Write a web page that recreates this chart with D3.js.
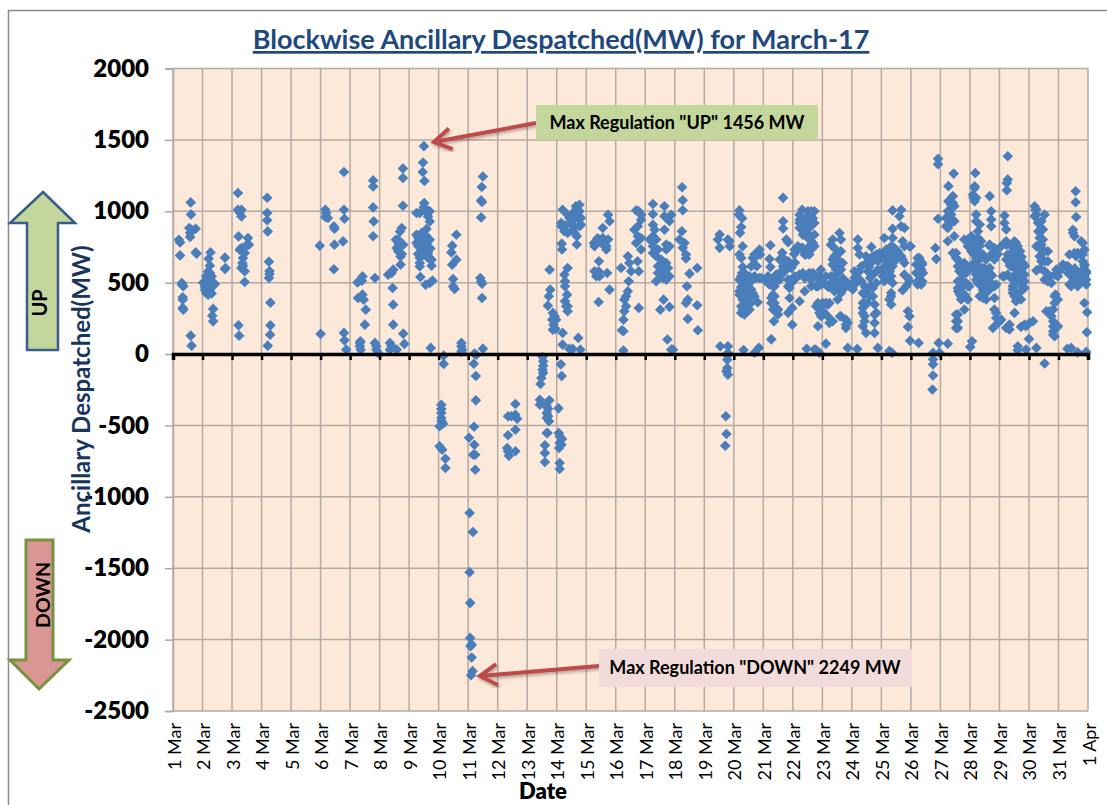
<!DOCTYPE html>
<html>
<head>
<meta charset="utf-8">
<script src="https://cdn.jsdelivr.net/npm/d3@7"></script>
<style>
  html, body { margin: 0; padding: 0; background: #fff; }
  text { font-family: Lato, "Open Sans", sans-serif; }
</style>
</head>
<body>
<svg id="chart" width="1107" height="805"></svg>
<script>
const yTicks = [2000, 1500, 1000, 500, 0, -500, -1000, -1500, -2000, -2500]
const dayLabels = ['1 Mar','2 Mar','3 Mar','4 Mar','5 Mar','6 Mar','7 Mar','8 Mar','9 Mar','10 Mar','11 Mar','12 Mar','13 Mar','14 Mar','15 Mar','16 Mar','17 Mar','18 Mar','19 Mar','20 Mar','21 Mar','22 Mar','23 Mar','24 Mar','25 Mar','26 Mar','27 Mar','28 Mar','29 Mar','30 Mar','31 Mar','1 Apr']

// each entry: [fraction of the day, MW]
const mar01 = [[.2,801],[.24,782],[.24,691],[.3,498],[.35,475],[.3,486],[.33,397],[.33,381],[.33,323],[.35,311],[.6,1062],[.61,978],[.55,883],[.63,871],[.58,848],[.58,820],[.77,878],[.77,712],[.8,703],[.6,129],[.63,59]]
const mar02 = [[.27,712],[.21,668],[.25,619],[.25,568],[.19,533],[.25,521],[.08,502],[.19,493],[.36,502],[.12,474],[.31,474],[.08,451],[.25,451],[.12,428],[.19,416],[.36,316],[.33,269],[.36,229],[.76,675],[.78,603],[.76,596],[.25,545],[.14,510],[.12,545],[.31,545],[.19,579],[.25,484],[.08,472],[.02,500],[.42,490],[.31,425]]
const mar03 = [[.2,1128],[.2,1011],[.32,1011],[.26,992],[.32,964],[.22,824],[.54,813],[.51,766],[.32,743],[.26,731],[.57,766],[.37,720],[.43,708],[.37,673],[.35,638],[.32,603],[.43,580],[.37,619],[.43,505],[.22,201],[.24,129],[.46,755]]
const mar04 = [[.19,1095],[.19,988],[.19,937],[.21,859],[.25,647],[.27,582],[.27,561],[.25,533],[.3,360],[.3,201],[.29,136],[.21,59]]
const mar05 = [[.97,759]]
const mar06 = [[0,141],[.16,1011],[.19,988],[.16,960],[.25,953],[.45,894],[.47,878],[.47,766],[.45,594],[.79,1275],[.79,1011],[.81,948],[.76,789],[.79,148],[.81,96],[.87,31]]
const mar07 = [[.25,502],[.42,544],[.4,514],[.27,393],[.42,416],[.46,381],[.53,311],[.5,206],[.33,78],[.33,54],[.36,31],[.35,89],[.78,1216],[.78,1174],[.78,1027],[.8,929],[.78,825],[.84,533],[.84,78],[.89,54],[.89,31],[.95,8]]
const mar08 = [[.29,556],[.41,568],[.46,591],[.44,463],[.46,346],[.46,206],[.35,78],[.41,54],[.35,31],[.58,31],[.8,143],[.84,71],[.79,1300],[.79,1233],[.79,1039],[.75,883],[.69,859],[.55,801],[.63,801],[.69,766],[.8,766],[.58,743],[.63,720],[.71,684],[.71,626],[.75,700],[.65,770]]
const mar09 = [[.5,1456],[.47,1342],[.46,1275],[.52,1212],[.51,1058],[.25,988],[.36,988],[.59,1011],[.7,1000],[.64,964],[.7,929],[.59,876],[.42,848],[.25,836],[.31,813],[.59,825],[.7,801],[.25,778],[.47,766],[.59,755],[.31,755],[.64,708],[.47,696],[.36,673],[.64,673],[.76,661],[.36,638],[.76,619],[.36,614],[.38,540],[.56,486],[.7,498],[.79,514],[.73,43],[.5,1030],[.55,1000],[.62,700],[.5,790],[.42,720],[.53,740],[.3,700],[.72,740]]
const mar10 = [[.17,-11],[.17,-69],[.46,759],[.6,836],[.43,712],[.6,661],[.46,626],[.49,526],[.49,474],[.54,456],[.77,78],[.77,54],[.8,31],[.77,15],[.09,-355],[.09,-385],[.09,-413],[.09,-448],[.1,-470],[.15,-488],[.03,-506],[.03,-646],[.12,-670],[.23,-733],[.23,-798]]
const mar11 = [[.21,3],[.28,-5],[.19,-68],[.26,-154],[.26,-324],[.2,-509],[.03,-586],[.21,-635],[.17,-705],[.24,-705],[.24,-810],[.05,-1113],[.16,-1246],[.05,-1528],[.07,-1743],[.07,-1988],[.12,-2035],[.08,-2046],[.12,-2125],[.15,-2221],[.1,-2249],[.5,38],[.5,1244],[.46,1170],[.44,1076],[.47,1065],[.44,957],[.41,533],[.44,510],[.47,493],[.47,393]]
const mar12 = [[.6,-350],[.35,-436],[.46,-436],[.6,-425],[.66,-453],[.6,-530],[.35,-569],[.32,-658],[.35,-681],[.38,-712],[.6,-681]]
const mar13 = [[.52,-21],[.54,-51],[.54,-82],[.52,-110],[.54,-133],[.48,-168],[.45,-210],[.43,-320],[.48,-343],[.43,-355],[.75,-324],[.66,-366],[.71,-385],[.66,-413],[.71,-436],[.66,-448],[.74,-471],[.66,-553],[.6,-639],[.6,-693],[.6,-756],[.69,-553],[.76,591],[.78,451],[.73,405],[.7,339],[.87,288],[.93,265],[.85,241],[.98,241],[.89,206],[.96,176],[.87,170]]
const mar14 = [[.14,-72],[.17,-154],[.06,-380],[.07,-553],[.1,-576],[.18,-595],[.1,-623],[.16,-635],[.08,-658],[.1,-763],[.1,-805],[.37,603],[.26,556],[.28,510],[.28,475],[.35,416],[.28,370],[.37,335],[.32,335],[.37,300],[.2,148],[.2,66],[.43,36],[.54,36],[.73,113],[.8,31],[.15,918],[.16,895],[.26,860],[.37,848],[.2,1011],[.37,976],[.54,976],[.43,953],[.65,1035],[.77,1046],[.6,1000],[.77,1000],[.71,953],[.82,953],[.77,895],[.6,895],[.6,848],[.68,825],[.68,767],[.17,773],[.18,732],[.54,871],[.82,905],[.68,1010],[.5,930],[.3,900]]
const mar15 = [[.26,778],[.28,755],[.43,650],[.42,580],[.28,580],[.34,545],[.45,545],[.71,568],[.79,451],[.42,365],[.56,883],[.56,813],[.45,802],[.62,790],[.74,802],[.68,755],[.74,976],[.79,930],[.68,732],[.34,790],[.5,780],[.62,760],[.38,810]]
const mar16 = [[.18,603],[.41,685],[.46,638],[.52,580],[.74,650],[.78,580],[.44,510],[.41,440],[.35,405],[.29,381],[.35,335],[.29,300],[.26,241],[.21,167],[.26,160],[.26,25],[.78,323],[.69,1006],[.86,976],[.86,941],[.75,895],[.63,871],[.75,825],[.86,813],[.69,778],[.86,732],[.78,1000]]
const mar17 = [[.26,1051],[.26,980],[.26,906],[.32,871],[.26,825],[.15,802],[.37,802],[.26,755],[.43,732],[.26,708],[.37,685],[.54,661],[.71,638],[.43,615],[.77,603],[.6,591],[.43,568],[.82,545],[.6,533],[.37,510],[.71,521],[.62,381],[.51,311],[.82,330],[.65,1035],[.88,976],[.65,965],[.82,930],[.65,871],[.75,102],[.88,31],[.94,31],[.71,767],[.82,755],[.71,732],[.55,620],[.65,560]]
const mar18 = [[.25,1168],[.27,1077],[.27,1007],[.24,860],[.16,802],[.33,778],[.27,744],[.38,697],[.38,670],[.5,563],[.41,475],[.44,381],[.38,358],[.76,603],[.76,342],[.44,246],[.78,167]]
const mar19 = [[.52,837],[.46,802],[.52,744],[.8,802],[.86,755],[.54,55],[.8,55],[.8,8],[.78,-40],[.75,-120],[.8,-145],[.78,-98],[.73,-436],[.75,-560],[.71,-642],[.85,790],[.78,-10]]
const mar20 = [[.19,1006],[.17,976],[.28,952],[.25,890],[.21,849],[.3,755],[.19,697],[.25,673],[.28,568],[.25,545],[.53,545],[.7,545],[.93,533],[.42,521],[.3,498],[.59,510],[.19,440],[.42,428],[.64,428],[.3,381],[.47,393],[.7,405],[.36,347],[.58,358],[.25,288],[.36,277],[.53,312],[.81,363],[.64,673],[.7,627],[.87,731],[.33,28],[.7,9],[.85,44],[.3,610],[.36,455],[.47,475],[.25,470],[.53,440],[.36,510],[.19,521],[.36,545],[.47,475],[.3,440],[.59,452],[.42,358],[.3,312],[.47,300],[.25,335],[.76,533],[.87,533],[.36,568],[.19,416],[.76,685],[.59,615],[.7,697],[.78,615],[.89,697]]
const mar21 = [[.24,762],[.21,666],[.24,610],[.21,533],[.44,557],[.16,498],[.38,475],[.55,521],[.33,416],[.27,358],[.38,358],[.38,323],[.5,277],[.36,230],[.27,103],[.67,1094],[.67,930],[.67,879],[.78,802],[.84,783],[.64,709],[.72,662],[.89,639],[.67,615],[.84,604],[.95,604],[.84,522],[.89,463],[.89,393],[.84,288],[.98,323],[.98,206],[.05,520],[.3,520],[.2,510],[.95,620],[.78,610],[.16,545],[.27,521],[.38,533],[.5,545],[.21,487],[.33,475],[.44,510],[.61,580],[.73,615],[.84,650],[.55,662],[.38,405],[.27,393],[.5,312],[.67,568],[.84,475],[.95,498],[.33,312],[.44,300]]
const mar22 = [[.32,1011],[.23,976],[.62,1000],[.73,1000],[.45,952],[.68,952],[.23,883],[.4,895],[.56,883],[.73,836],[.34,836],[.51,813],[.68,778],[.34,743],[.17,732],[.56,697],[.4,697],[.34,568],[.56,568],[.68,568],[.4,533],[.17,545],[.62,521],[.4,440],[.23,370],[.47,37],[.73,32],[.9,9],[.85,475],[.79,475],[.9,545],[.96,487],[.85,358],[.96,335],[.9,288],[.96,265],[.85,195],[.3,930],[.45,870],[.62,930],[.5,960],[.4,850],[.28,880],[.56,830],[.05,700],[.07,640],[.05,520],[.95,590],[.78,30],[.06,545],[.06,732],[.17,755],[.28,743],[.56,755],[.73,755],[.45,697],[.62,732],[.4,872],[.23,918],[.34,918],[.56,918],[.73,918],[.51,1000],[.23,941],[.06,533],[.23,556],[.51,556],[.79,545],[.62,475],[.9,498],[.79,335]]
const mar23 = [[.35,802],[.58,848],[.63,802],[.29,766],[.46,731],[.63,720],[.41,685],[.52,662],[.35,627],[.69,638],[.46,592],[.12,545],[.29,545],[.63,592],[.41,545],[.01,498],[.29,498],[.52,498],[.86,498],[.75,463],[.41,440],[.63,428],[.52,382],[.12,358],[.24,358],[.07,288],[.35,230],[.24,218],[.6,265],[.8,241],[.86,218],[.8,183],[.12,73],[.86,43],[.2,470],[.35,470],[.55,460],[.7,530],[.46,610],[.01,358],[.12,487],[.24,475],[.41,475],[.52,463],[.63,475],[.75,498],[.35,533],[.52,568],[.41,615],[.58,638],[.35,662],[.46,685],[.8,498],[.92,475],[.01,346],[.18,346],[.01,277],[.18,265],[.63,265],[.8,206]]
const mar24 = [[.2,802],[.2,743],[.26,697],[.2,568],[.09,580],[.32,615],[.48,685],[.66,750],[.71,650],[.54,580],[.15,498],[.32,510],[.62,533],[.03,452],[.43,417],[.77,568],[.37,358],[.54,358],[.71,405],[.37,288],[.43,230],[.48,148],[.77,277],[.77,218],[.77,148],[.88,43],[.18,36],[.6,660],[.5,640],[.58,610],[.45,470],[.65,480],[.88,590],[.03,498],[.15,568],[.26,580],[.09,533],[.26,521],[.6,662],[.83,697],[.94,708],[.71,685],[.88,650],[.99,592],[.83,580],[.66,556],[.37,428],[.54,452],[.71,463],[.83,498],[.6,405],[.43,358],[.77,347],[.37,323],[.43,265],[.37,195],[.83,288]]
const mar25 = [[.1,813],[.38,813],[.27,731],[.44,697],[.1,685],[.33,673],[.67,685],[.72,790],[.99,755],[.72,662],[.05,592],[.16,580],[.38,615],[.78,556],[.95,510],[.27,521],[.1,510],[.33,405],[.72,447],[.33,347],[.38,1006],[.67,1011],[.61,965],[.38,877],[.67,895],[.78,883],[.27,21],[.36,9],[.9,300],[.95,265],[.9,190],[.97,93],[.2,720],[.25,650],[.38,690],[.15,620],[.5,660],[.55,720],[.08,540],[.28,580],[.16,731],[.33,755],[.44,743],[.27,697],[.05,673],[.21,638],[.38,662],[.5,685],[.1,603],[.27,580],[.16,533],[.05,545],[.33,545],[.38,498],[.95,755],[.78,755],[.61,697],[.78,638],[.9,533],[.33,428],[.27,382],[.84,475]]
const mar26 = [[.23,673],[.29,627],[.35,592],[.23,568],[.41,568],[.23,510],[.35,487],[.26,78],[.83,743],[.86,666],[.75,9],[.75,-37],[.75,-72],[.75,-150],[.73,-248],[.97,9],[.94,78],[.92,1368],[.92,1330],[.92,948],[.3,550],[.38,640],[.18,627],[.29,673],[.18,568],[.29,521],[.38,510],[.23,487],[.38,627]]
const mar27 = [[.25,73],[.45,1264],[.27,1176],[.42,1106],[.27,1071],[.36,1047],[.47,1035],[.25,1000],[.19,953],[.36,977],[.47,930],[.36,919],[.25,883],[.47,825],[.25,790],[.42,708],[.53,673],[.7,627],[.81,638],[.64,580],[.87,568],[.7,521],[.59,463],[.93,475],[.81,417],[.7,382],[.93,382],[.81,312],[.59,277],[.53,230],[.59,183],[.75,560],[.6,440],[.65,420],[.8,500],[.9,600],[.3,960],[.53,708],[.64,650],[.75,627],[.59,615],[.7,580],[.93,603],[.81,580],[.59,510],[.75,475],[.64,440],[.87,498],[.98,475],[.7,405],[.87,393],[.53,277],[.59,230],[.53,183],[.42,1058],[.3,1000],[.42,941],[.19,895],[.93,802],[.81,802],[.93,755]]
const mar28 = [[.18,1268],[.16,1163],[.1,1116],[.21,1094],[.16,1070],[.21,977],[.33,907],[.05,825],[.27,860],[.21,778],[.05,755],[.38,790],[.1,708],[.27,720],[.55,662],[.33,662],[.1,592],[.44,603],[.21,557],[.67,568],[.44,533],[.27,498],[.55,498],[.83,475],[.44,452],[.67,452],[.44,393],[.55,382],[.83,393],[.67,1106],[.72,1000],[.72,942],[.72,895],[.83,312],[.89,253],[.78,183],[.07,90],[.01,50],[.95,218],[.15,640],[.3,580],[.5,600],[.6,540],[.1,770],[.35,500],[.2,620],[.75,550],[.85,720],[.65,760],[.95,700],[.1,802],[.27,813],[.16,755],[.33,755],[.05,720],[.21,673],[.44,697],[.67,766],[.83,743],[.72,697],[.89,708],[.83,662],[.1,627],[.27,615],[.44,580],[.55,580],[.67,603],[.21,521],[.38,533],[.55,521],[.72,498],[.89,487],[.33,487],[.5,417],[.33,405],[.16,1175],[.12,1094],[.21,930],[.89,288]]
const mar29 = [[.28,1385],[.28,1222],[.25,1198],[.25,1147],[.17,970],[.17,918],[.23,872],[.23,790],[.51,790],[.56,778],[.28,697],[.68,685],[.45,662],[.62,627],[.79,638],[.23,662],[.45,615],[.73,603],[.17,545],[.62,568],[.85,556],[.51,487],[.79,498],[.45,452],[.73,440],[.56,370],[.73,382],[.51,288],[.34,206],[.34,172],[.73,190],[.9,195],[.62,55],[.62,27],[.9,32],[.6,730],[.7,720],[.75,540],[.55,600],[.68,500],[.85,620],[.75,680],[.5,550],[.35,620],[.48,720],[.17,778],[.06,755],[.23,766],[.4,755],[.51,731],[.62,755],[.34,673],[.51,650],[.62,685],[.73,650],[.85,615],[.4,615],[.56,615],[.73,568],[.56,545],[.85,510],[.11,545],[.28,556],[.45,521],[.62,498],[.73,487],[.45,475],[.85,463],[.62,428],[.45,428],[.62,382],[.51,405],[.23,183],[.06,241],[.85,206]]
const mar30 = [[.19,1035],[.25,977],[.53,977],[.42,930],[.42,883],[.36,813],[.42,766],[.25,755],[.64,720],[.42,673],[.53,650],[.25,586],[.6,568],[.53,521],[.76,498],[.98,545],[.9,417],[.87,358],[.59,300],[.76,265],[.82,230],[.98,195],[.82,160],[.87,125],[.02,218],[.14,230],[0,106],[.25,43],[.53,-66],[.22,1010],[.32,860],[.46,720],[.38,600],[.25,1012],[.19,965],[.31,919],[.47,872],[.36,849],[.47,802],[.31,755],[.53,720],[.36,685],[.42,650],[.64,650],[.53,580],[.7,545],[.64,510],[.87,556],[.93,592],[.82,312],[.7,300],[.87,405],[.98,382],[.82,195],[.93,183],[.82,136]]
const mar31 = [[.26,615],[.49,871],[.58,1140],[.58,1063],[.6,960],[.54,825],[.77,790],[.65,708],[.37,697],[.82,697],[.82,650],[.6,685],[.03,580],[.43,580],[.71,568],[.94,580],[.49,533],[.65,545],[.37,487],[.65,475],[.94,487],[.88,545],[.88,358],[.97,293],[.96,153],[.3,37],[.43,43],[.65,12],[.94,15],[.15,610],[.55,600],[.88,620],[.15,627],[.32,615],[.43,556],[.54,568],[.32,568],[.43,475],[.6,556],[.77,521],[.88,627],[.77,697],[.88,731],[.49,849],[.54,708],[.82,778],[.94,568],[.77,580],[.94,521],[.65,498]]
const monthDays = [mar01,mar02,mar03,mar04,mar05,mar06,mar07,mar08,mar09,mar10,mar11,mar12,mar13,mar14,mar15,mar16,mar17,mar18,mar19,mar20,mar21,mar22,mar23,mar24,mar25,mar26,mar27,mar28,mar29,mar30,mar31]

const P_LEFT = 173, P_RIGHT = 1088, P_TOP = 68.5, P_BOTTOM = 711

const svg = d3.select('#chart')
const x = d3.scaleLinear().domain([1, 32]).range([P_LEFT, P_RIGHT])
const y = d3.scaleLinear().domain([-2500, 2000]).range([P_BOTTOM, P_TOP])

// outer frame, only top and left show in the picture
svg.append('path')
  .attr('d', 'M8.5,805V10.5H1107')
  .attr('fill', 'none')
  .attr('stroke', '#8c8c8c')
  .attr('stroke-width', 1.5)

svg.append('rect')
  .attr('x', P_LEFT).attr('y', P_TOP)
  .attr('width', P_RIGHT - P_LEFT).attr('height', P_BOTTOM - P_TOP)
  .attr('fill', '#fde9d9')

const dayTicks = d3.range(1, 33)

svg.append('g').selectAll('line').data(dayTicks).join('line')
  .attr('x1', d => x(d)).attr('x2', d => x(d))
  .attr('y1', P_TOP).attr('y2', P_BOTTOM)
  .attr('stroke', '#b3aaa3').attr('stroke-width', 1.5)

svg.append('g').selectAll('line').data(yTicks).join('line')
  .attr('x1', P_LEFT).attr('x2', P_RIGHT)
  .attr('y1', d => y(d)).attr('y2', d => y(d))
  .attr('stroke', '#b3aaa3').attr('stroke-width', 1.5)

// y axis
let yAxis = svg.append('g')
  .attr('transform', 'translate(' + P_LEFT + ',0)')
  .call(d3.axisLeft(y).tickValues(yTicks).tickFormat(d => String(d)).tickSize(8).tickPadding(16))
yAxis.select('.domain').attr('stroke', '#b3aaa3').attr('stroke-width', 1.5)
yAxis.selectAll('.tick line').attr('stroke', '#a8a8a8').attr('stroke-width', 1.5)
yAxis.selectAll('text')
  .style('font-size', '24px').style('font-weight', 800).attr('fill', '#000')

// x labels along the bottom
svg.append('g').selectAll('text').data(dayTicks).join('text')
  .attr('transform', d => 'translate(' + (x(d) + 7.5) + ',723) rotate(-90)')
  .attr('text-anchor', 'end')
  .style('font-size', '18px')
  .attr('fill', '#000')
  .text((d, i) => dayLabels[i])

// points
let points = monthDays.flatMap((list, i) => list.map(p => ({day: i + 1 + p[0], mw: p[1]})))
svg.append('g').selectAll('path').data(points).join('path')
  .attr('d', d3.symbol(d3.symbolDiamond2, 72))
  .attr('transform', d => 'translate(' + x(d.day) + ',' + y(d.mw) + ')')
  .attr('fill', '#4a7ebb')

// zero axis, thick with ticks below
let zeroAxis = svg.append('g')
  .attr('transform', 'translate(0,' + y(0) + ')')
  .call(d3.axisBottom(x).tickValues(dayTicks).tickSize(6).tickFormat(''))
zeroAxis.select('.domain').attr('stroke', '#000').attr('stroke-width', 3.5)
zeroAxis.selectAll('.tick line').attr('stroke', '#000').attr('stroke-width', 2.5)

// title
svg.append('text')
  .attr('x', 561).attr('y', 49)
  .attr('text-anchor', 'middle')
  .style('font-size', '27px').style('font-weight', 700)
  .style('text-decoration', 'underline')
  .attr('fill', '#1f497d')
  .text('Blockwise Ancillary Despatched(MW) for March-17')

svg.append('text')
  .attr('transform', 'translate(90,389) rotate(-90)')
  .attr('text-anchor', 'middle')
  .style('font-size', '24px').style('font-weight', 700)
  .attr('fill', '#17365d')
  .text('Ancillary Despatched(MW)')

svg.append('text')
  .attr('x', 543).attr('y', 799)
  .attr('text-anchor', 'middle')
  .style('font-size', '22px').style('font-weight', 800)
  .attr('fill', '#000')
  .text('Date')

// block arrows
svg.append('path')
  .attr('d', 'M43,192L75,223H58V350H27V223H10Z')
  .attr('fill', '#c3d69b').attr('stroke', '#385d8a').attr('stroke-width', 2.5)
svg.append('text')
  .attr('transform', 'translate(47,303) rotate(-90)')
  .attr('text-anchor', 'middle')
  .style('font-size', '20px').style('font-weight', 700)
  .text('UP')

svg.append('path')
  .attr('d', 'M26,540H53V660H69L39,689L10,660H26Z')
  .attr('fill', '#d99694').attr('stroke', '#76923c').attr('stroke-width', 3)
svg.append('text')
  .attr('transform', 'translate(50,595) rotate(-90)')
  .attr('text-anchor', 'middle')
  .style('font-size', '19.5px').style('font-weight', 700)
  .text('DOWN')

// callouts
let defs = svg.append('defs')
defs.append('filter').attr('id', 'shadow')
  .append('feDropShadow')
  .attr('dx', 1).attr('dy', 2).attr('stdDeviation', 1.5)
  .attr('flood-color', '#000').attr('flood-opacity', 0.3)

function callout(x0, y0, x1, y1) {
  let a = Math.atan2(y1 - y0, x1 - x0)
  let head = 20, spread = 0.55
  svg.append('path')
    .attr('d', 'M' + x0 + ',' + y0 + 'L' + x1 + ',' + y1 +
      'M' + (x1 - head * Math.cos(a - spread)) + ',' + (y1 - head * Math.sin(a - spread)) +
      'L' + x1 + ',' + y1 +
      'L' + (x1 - head * Math.cos(a + spread)) + ',' + (y1 - head * Math.sin(a + spread)))
    .attr('fill', 'none')
    .attr('stroke', '#be4b48').attr('stroke-width', 4)
    .attr('stroke-linejoin', 'miter')
    .attr('filter', 'url(#shadow)')
}
callout(536, 123, 434, 142)
callout(599, 666, 480, 676)

svg.append('rect').attr('x', 536).attr('y', 105).attr('width', 282).attr('height', 35).attr('fill', '#c3d69b')
svg.append('text').attr('x', 677).attr('y', 129).attr('text-anchor', 'middle')
  .style('font-size', '18px').style('font-weight', 700)
  .text('Max Regulation "UP" 1456 MW')

svg.append('rect').attr('x', 599).attr('y', 649).attr('width', 313).attr('height', 38).attr('fill', '#f2dcdb')
svg.append('text').attr('x', 755).attr('y', 674).attr('text-anchor', 'middle')
  .style('font-size', '18px').style('font-weight', 700)
  .text('Max Regulation "DOWN" 2249 MW')
</script>
</body>
</html>
